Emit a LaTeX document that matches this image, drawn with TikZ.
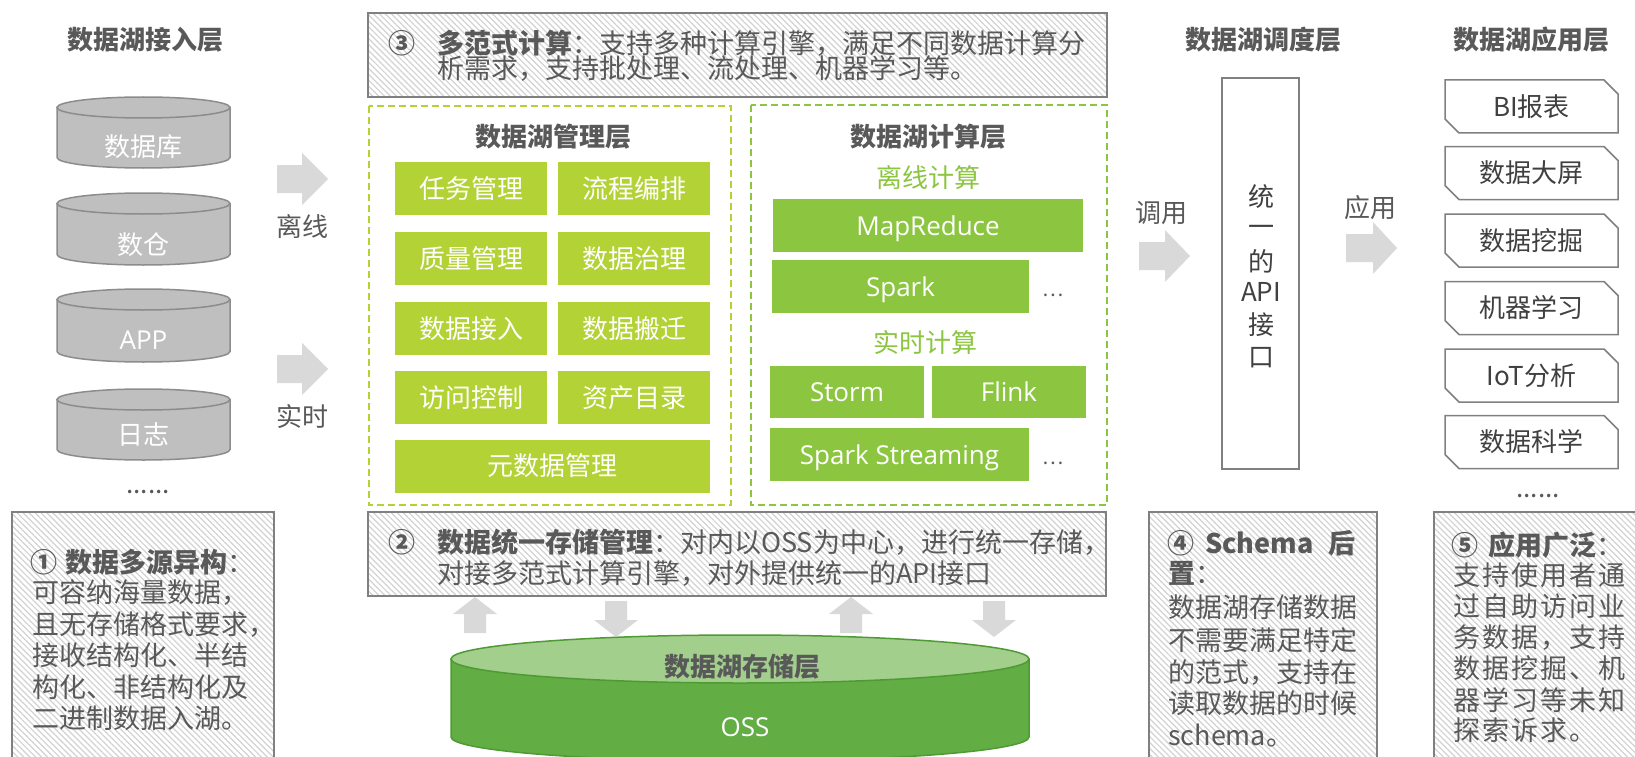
\documentclass[tikz,border=0pt]{standalone}
\usepackage{fontspec}
\setmainfont{Noto Sans CJK SC}
\newfontfamily\latfont{Open Sans}
\usetikzlibrary{patterns.meta,shapes.misc}
\definecolor{txt}{HTML}{595959}
\definecolor{dtxt}{HTML}{404040}
\definecolor{lime}{HTML}{B2D235}
\definecolor{grn}{HTML}{8CC640}
\definecolor{hatchc}{HTML}{D2D2D2}
\definecolor{bord}{HTML}{808080}
\definecolor{cylf}{HTML}{BFBFBF}
\definecolor{cyld}{HTML}{8C8C8C}
\definecolor{arrowg}{HTML}{D9D9D9}
\definecolor{ossbody}{HTML}{63AD45}
\definecolor{osstop}{HTML}{A2CF8B}
\definecolor{ossline}{HTML}{4F9A34}
\tikzset{
  fa/.style={inner sep=0pt, text height=22.9pt, text depth=3.1pt, font=\fontsize{26}{26}\selectfont},
  fb/.style={inner sep=0pt, text height=23.8pt, text depth=3.2pt, font=\fontsize{27}{27}\selectfont},
  title/.style={fa, font=\fontsize{26}{26}\selectfont\bfseries, text=txt},
  lbl/.style={fa, text=txt},
  para/.style={fb, text=txt, anchor=west},
  circ/.style={fb, font=\fontsize{27}{27}\selectfont\bfseries, text=txt},
  mbox/.style={fa, fill=lime, text=white, minimum height=53pt},
  cbox/.style={fa, font=\fontsize{26}{26}\selectfont\latfont, fill=grn, text=white, minimum height=53pt},
  subhead/.style={fa, text=grn},
  hatchbox/.style={draw=bord, line width=1.5pt, pattern={Lines[angle=-45,distance=4.2pt,line width=1.2pt]}, pattern color=hatchc},
  dashbox/.style={line width=2.4pt, dash pattern=on 7pt off 4pt},
  appbox/.style={fa, chamfered rectangle, chamfered rectangle corners={north east,south west}, chamfered rectangle xsep=7pt, chamfered rectangle ysep=7pt, draw=bord, line width=1.5pt, fill=white, minimum width=173pt, minimum height=53pt, text=dtxt},
  cyltxt/.style={fa, text=white},
  blk/.style={fill=arrowg},
  dots/.style={inner sep=0pt, font=\fontsize{26}{26}\selectfont, text=txt, anchor=base},
}
\newcommand\mycyl[4]{%
  \pgfmathsetmacro\myCx{(#1+#2)/2}%
  \pgfmathsetmacro\myRx{(#2-#1)/2}%
  \pgfmathsetmacro\myCt{#3+10.5}%
  \pgfmathsetmacro\myCb{#4-10.5}%
  \filldraw[fill=cylf,draw=cyld,line width=1.5pt] (#1,\myCt) -- (#1,\myCb) arc[start angle=180,end angle=0,x radius=\myRx,y radius=10.5] -- (#2,\myCt) -- cycle;
  \filldraw[fill=cylf,draw=cyld,line width=1.5pt] (\myCx,\myCt) ellipse[x radius=\myRx,y radius=10.5];
}
\newcommand\rarr[3]{% x0,y0,head offset
  \fill[blk] (#1,#2+12) -- (#1+#3,#2+12) -- (#1+#3,#2) -- (#1+51,#2+26) -- (#1+#3,#2+52) -- (#1+#3,#2+40) -- (#1,#2+40) -- cycle;}
\newcommand\uarr[2]{%
  \fill[blk] (#1+11,#2+36) -- (#1+11,#2+17) -- (#1,#2+17) -- (#1+22,#2) -- (#1+44,#2+17) -- (#1+33,#2+17) -- (#1+33,#2+36) -- cycle;}
\newcommand\darr[2]{%
  \fill[blk] (#1+11,#2) -- (#1+11,#2+19) -- (#1,#2+19) -- (#1+22,#2+36) -- (#1+44,#2+19) -- (#1+33,#2+19) -- (#1+33,#2) -- cycle;}
\begin{document}
\begin{tikzpicture}[x=1pt,y=-1pt]
\useasboundingbox (0,0) rectangle (1635,757);
\clip (0,0) rectangle (1635,757);
\fill[white] (0,0) rectangle (1635,757);

% ---------- titles ----------
\node[title] (t1) at (145,40) {数据湖接入层};
\node[title] (t4) at (1263,40) {数据湖调度层};
\node[title] (t5) at (1531,40) {数据湖应用层};

% ---------- access layer ----------
\mycyl{57}{230}{97}{168}
\mycyl{57}{230}{193}{265}
\mycyl{57}{230}{289}{362}
\mycyl{57}{230}{389}{460}
\node[cyltxt] (c1) at (143.5,147) {数据库};
\node[cyltxt] (c2) at (143.5,245) {数仓};
\node[cyltxt, font=\fontsize{26}{26}\selectfont\latfont] (c3) at (143.5,340) {APP};
\node[cyltxt] (c4) at (143.5,435) {日志};
\node[dots] (d1) at (148,493) {......};

\rarr{277}{153}{25}
\rarr{277}{343}{25}
\node[lbl] (l1) at (302,227) {离线};
\node[lbl] (l2) at (302,417) {实时};

% ---------- box 3 (top) ----------
\path[hatchbox] (368,13) rectangle (1107,97);
\node[circ] (n3) at (402,43) {③};
\node[para] (p3a) at (437,43) {{\bfseries 多范式计算}：支持多种计算引擎，满足不同数据计算分};
\node[para] (p3b) at (437,68) {析需求，支持批处理、流处理、机器学习等。};

% ---------- management layer ----------
\draw[dashbox, draw=lime] (369,106) rectangle (731,505);
\node[title] (tm) at (553,137) {数据湖管理层};
\node[mbox, minimum width=152pt] (m1) at (471,188.5) {任务管理};
\node[mbox, minimum width=152pt] (m2) at (634,188.5) {流程编排};
\node[mbox, minimum width=152pt] (m3) at (471,258.5) {质量管理};
\node[mbox, minimum width=152pt] (m4) at (634,258.5) {数据治理};
\node[mbox, minimum width=152pt] (m5) at (471,328.5) {数据接入};
\node[mbox, minimum width=152pt] (m6) at (634,328.5) {数据搬迁};
\node[mbox, minimum width=152pt] (m7) at (471,397.5) {访问控制};
\node[mbox, minimum width=152pt] (m8) at (634,397.5) {资产目录};
\node[mbox, minimum width=315pt] (m9) at (552.5,466) {元数据管理};

% ---------- compute layer ----------
\draw[dashbox, draw=grn] (751,105) rectangle (1107,505);
\node[title] (tc) at (928,137) {数据湖计算层};
\node[subhead] (s1) at (928,178) {离线计算};
\node[cbox, minimum width=310pt] (k1) at (928,225.5) {MapReduce};
\node[cbox, minimum width=257pt] (k2) at (900.5,286.5) {Spark};
\node[lbl, font=\fontsize{20}{20}\selectfont] (e1) at (1053,287) {…};
\node[subhead] (s2) at (925,343) {实时计算};
\node[cbox, minimum width=154pt, minimum height=52pt] (k3) at (847,392) {Storm};
\node[cbox, minimum width=154pt, minimum height=52pt] (k4) at (1009,392) {Flink};
\node[cbox, minimum width=259pt] (k5) at (899.5,454.5) {Spark Streaming};
\node[lbl, font=\fontsize{20}{20}\selectfont] (e2) at (1053,455) {…};

% ---------- box 2 ----------
\path[hatchbox] (368,512) rectangle (1106,596);
\node[circ] (n2) at (402,542) {②};
\node[para] (p2a) at (437,542) {{\bfseries 数据统一存储管理}：对内以OSS为中心，进行统一存储，};
\node[para] (p2b) at (437,573) {对接多范式计算引擎，对外提供统一的API接口};

\uarr{453}{597}
\darr{594}{601}
\uarr{829}{597}
\darr{972}{601}

% ---------- storage cylinder ----------
\filldraw[fill=ossbody, draw=ossline, line width=1.5pt] (451,659) -- (451,737) arc[start angle=180,end angle=0,x radius=289,y radius=24] -- (1029,659) -- cycle;
\filldraw[fill=osstop, draw=ossline, line width=1.5pt] (740,659) ellipse[x radius=289,y radius=24];
\node[title, text=txt] (st) at (742,667) {数据湖存储层};
\node[cyltxt, font=\fontsize{26}{26}\selectfont\latfont] (oss) at (745,727) {OSS};

% ---------- scheduling layer ----------
\draw[draw=bord, line width=1.5pt, fill=white] (1222,78) rectangle (1299,469);
\node[lbl, text=dtxt] (a1) at (1261,197) {统};
\node[lbl, text=dtxt] (a2) at (1261,227) {一};
\node[lbl, text=dtxt] (a3) at (1261,262) {的};
\node[lbl, text=dtxt] (a4) at (1261,292) {API};
\node[lbl, text=dtxt] (a5) at (1261,325) {接};
\node[lbl, text=dtxt] (a6) at (1261,357) {口};
\node[lbl] (l3) at (1161,213) {调用};
\rarr{1139}{230}{26}
\node[lbl] (l4) at (1370,208) {应用};
\rarr{1346}{222}{27}

% ---------- application layer ----------
\node[appbox] (b1) at (1531.5,106.5) {BI报表};
\node[appbox] (b2) at (1531.5,173) {数据大屏};
\node[appbox] (b3) at (1531.5,240.5) {数据挖掘};
\node[appbox] (b4) at (1531.5,308) {机器学习};
\node[appbox] (b5) at (1531.5,375.5) {IoT分析};
\node[appbox] (b6) at (1531.5,442) {数据科学};
\node[dots] (d2) at (1538,497) {......};

% ---------- box 1 ----------
\path[hatchbox] (12,512) rectangle (274,780);
\node[circ] (n1) at (43.5,562) {①};
\node[para] (p1a) at (65,562) {{\bfseries 数据多源异构}：};
\node[para] (p1b) at (32,592) {可容纳海量数据，};
\node[para] (p1c) at (32,624) {且无存储格式要求，};
\node[para] (p1d) at (32,655) {接收结构化、半结};
\node[para] (p1e) at (32,687) {构化、非结构化及};
\node[para] (p1f) at (32,718) {二进制数据入湖。};

% ---------- box 4 ----------
\path[hatchbox] (1149,512) rectangle (1377,780);
\node[circ] (n4) at (1181,543) {④};
\node[para, font=\fontsize{27}{27}\selectfont\bfseries] (p4a) at (1205,543) {Schema};
\node[para, anchor=east, font=\fontsize{27}{27}\selectfont\bfseries] (p4b) at (1356,543) {后};
\node[para] (p4c) at (1168,573) {{\bfseries 置}：};
\node[para] (p4d) at (1168,607) {数据湖存储数据};
\node[para] (p4e) at (1168,640) {不需要满足特定};
\node[para] (p4f) at (1168,672) {的范式，支持在};
\node[para] (p4g) at (1168,703) {读取数据的时候};
\node[para] (p4h) at (1168,735) {schema。};

% ---------- box 5 ----------
\path[hatchbox] (1434,512) rectangle (1660,780);
\node[circ] (n5) at (1465,545) {⑤};
\node[para] (p5a) at (1488,545) {{\bfseries 应用广泛}：};
\node[para, font=\fontsize{27}{27}\selectfont\addfontfeature{LetterSpace=7.4}] (p5b) at (1453,575) {支持使用者通};
\node[para, font=\fontsize{27}{27}\selectfont\addfontfeature{LetterSpace=7.4}] (p5c) at (1453,606) {过自助访问业};
\node[para, font=\fontsize{27}{27}\selectfont\addfontfeature{LetterSpace=7.4}] (p5d) at (1453,637) {务数据，支持};
\node[para, font=\fontsize{27}{27}\selectfont\addfontfeature{LetterSpace=7.4}] (p5e) at (1453,668) {数据挖掘、机};
\node[para, font=\fontsize{27}{27}\selectfont\addfontfeature{LetterSpace=7.4}] (p5f) at (1453,700) {器学习等未知};
\node[para, font=\fontsize{27}{27}\selectfont\addfontfeature{LetterSpace=7.4}] (p5g) at (1453,730) {探索诉求。};
\end{tikzpicture}
\end{document}
